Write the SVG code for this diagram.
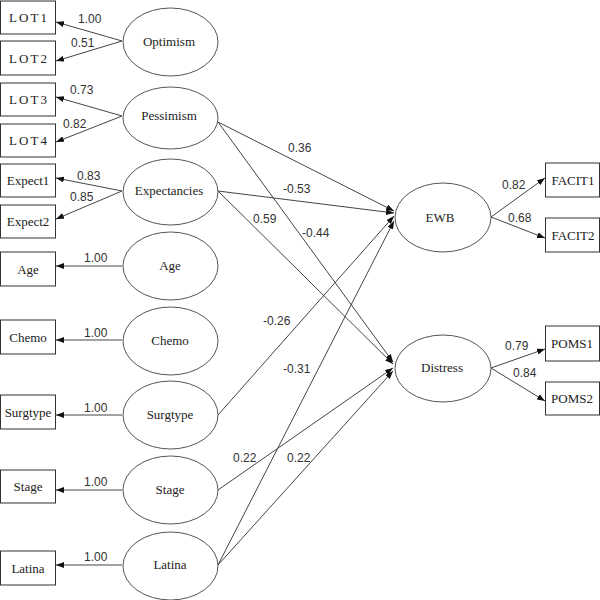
<svg xmlns="http://www.w3.org/2000/svg" width="600" height="600" viewBox="0 0 600 600">
<style>
.box{fill:#fff;stroke:#333;stroke-width:1}
.ell{fill:#fff;stroke:#555;stroke-width:1}
.nt{font-family:"Liberation Serif","Times New Roman",serif;font-size:13px;fill:#222;text-anchor:middle}
.lot{letter-spacing:2px}
.lbl{font-family:"Liberation Sans",Arial,sans-serif;font-size:12px;fill:#333}
.c{stroke:#444;stroke-width:1;fill:none;marker-end:url(#ah)}
</style>
<defs>
<marker id="ah" viewBox="0 0 8 6" refX="8" refY="3" markerWidth="8" markerHeight="6" markerUnits="userSpaceOnUse" orient="auto">
<path d="M0,0 L8,3 L0,6 z" fill="#111"/>
</marker>
</defs>
<rect width="600" height="600" fill="#fff"/>
<g id="connectors">
<line class="c" x1="122" y1="41" x2="56" y2="22"/>
<line class="c" x1="122" y1="41" x2="56" y2="61"/>
<line class="c" x1="122" y1="116" x2="56" y2="97"/>
<line class="c" x1="122" y1="116" x2="56" y2="142"/>
<line class="c" x1="122" y1="191" x2="56" y2="178"/>
<line class="c" x1="122" y1="191" x2="56" y2="219"/>
<line class="c" x1="122" y1="266" x2="56" y2="266"/>
<line class="c" x1="122" y1="340" x2="56" y2="340"/>
<line class="c" x1="122" y1="415" x2="56" y2="415"/>
<line class="c" x1="122" y1="490" x2="56" y2="490"/>
<line class="c" x1="122" y1="565" x2="56" y2="565"/>
<line class="c" x1="218" y1="122" x2="394" y2="211"/>
<line class="c" x1="218" y1="122" x2="393" y2="362"/>
<line class="c" x1="218" y1="191" x2="394" y2="213"/>
<line class="c" x1="218" y1="191" x2="393" y2="364"/>
<line class="c" x1="218" y1="415" x2="394" y2="216"/>
<line class="c" x1="218" y1="490" x2="393" y2="368"/>
<line class="c" x1="218" y1="565" x2="394" y2="221"/>
<line class="c" x1="218" y1="565" x2="393" y2="371"/>
<line class="c" x1="491" y1="217" x2="545" y2="178"/>
<line class="c" x1="491" y1="217" x2="545" y2="238"/>
<line class="c" x1="491" y1="368" x2="545" y2="349"/>
<line class="c" x1="491" y1="368" x2="545" y2="401"/>
</g>
<g id="labels" class="lbl">
<text x="78" y="23">1.00</text>
<text x="71" y="47">0.51</text>
<text x="70" y="94">0.73</text>
<text x="63" y="128">0.82</text>
<text x="77" y="180">0.83</text>
<text x="70" y="201">0.85</text>
<text x="84" y="262">1.00</text>
<text x="84" y="337">1.00</text>
<text x="84" y="412">1.00</text>
<text x="84" y="486">1.00</text>
<text x="84" y="561">1.00</text>
<text x="288" y="152">0.36</text>
<text x="283" y="193">-0.53</text>
<text x="253" y="223">0.59</text>
<text x="302" y="237">-0.44</text>
<text x="263" y="325">-0.26</text>
<text x="283" y="373">-0.31</text>
<text x="233" y="462">0.22</text>
<text x="287" y="462">0.22</text>
<text x="502" y="189">0.82</text>
<text x="508" y="222">0.68</text>
<text x="505" y="350">0.79</text>
<text x="513" y="377">0.84</text>
</g>
<g id="LOT1"><rect class="box" x="0.5" y="1" width="55" height="33"/><text class="nt lot" x="29" y="22">LOT1</text></g>
<g id="LOT2"><rect class="box" x="0.5" y="41" width="55" height="34"/><text class="nt lot" x="29" y="62.5">LOT2</text></g>
<g id="LOT3"><rect class="box" x="0.5" y="83" width="55" height="33"/><text class="nt lot" x="29" y="104">LOT3</text></g>
<g id="LOT4"><rect class="box" x="0.5" y="124" width="55" height="33"/><text class="nt lot" x="29" y="145">LOT4</text></g>
<g id="Expect1"><rect class="box" x="0.5" y="164" width="55" height="33"/><text class="nt" x="28" y="185">Expect1</text></g>
<g id="Expect2"><rect class="box" x="0.5" y="205" width="55" height="33"/><text class="nt" x="28" y="226">Expect2</text></g>
<g id="AgeBox"><rect class="box" x="0.5" y="252" width="55" height="34"/><text class="nt" x="28" y="273.5">Age</text></g>
<g id="ChemoBox"><rect class="box" x="0.5" y="320" width="55" height="34"/><text class="nt" x="28" y="341.5">Chemo</text></g>
<g id="SurgtypeBox"><rect class="box" x="0.5" y="395" width="55" height="34"/><text class="nt" x="28" y="416.5">Surgtype</text></g>
<g id="StageBox"><rect class="box" x="0.5" y="470" width="55" height="33"/><text class="nt" x="28" y="491">Stage</text></g>
<g id="LatinaBox"><rect class="box" x="0.5" y="551" width="55" height="34"/><text class="nt" x="28" y="572.5">Latina</text></g>
<g id="Optimism"><ellipse class="ell" cx="170.5" cy="42" rx="47.5" ry="34"/><text class="nt" x="169" y="46">Optimism</text></g>
<g id="Pessimism"><ellipse class="ell" cx="170.5" cy="118" rx="47.5" ry="31"/><text class="nt" x="169" y="120">Pessimism</text></g>
<g id="Expectancies"><ellipse class="ell" cx="170.5" cy="192" rx="47.5" ry="33"/><text class="nt" x="169" y="195">Expectancies</text></g>
<g id="Age"><ellipse class="ell" cx="170.5" cy="266" rx="47.5" ry="34"/><text class="nt" x="170" y="270">Age</text></g>
<g id="Chemo"><ellipse class="ell" cx="170.5" cy="341" rx="47.5" ry="34"/><text class="nt" x="170" y="345">Chemo</text></g>
<g id="Surgtype"><ellipse class="ell" cx="170.5" cy="415" rx="47.5" ry="34"/><text class="nt" x="170" y="419">Surgtype</text></g>
<g id="Stage"><ellipse class="ell" cx="170.5" cy="490" rx="47.5" ry="34"/><text class="nt" x="170" y="494">Stage</text></g>
<g id="Latina"><ellipse class="ell" cx="170.5" cy="566" rx="47.5" ry="34"/><text class="nt" x="170" y="569">Latina</text></g>
<g id="EWB"><ellipse class="ell" cx="443" cy="217.5" rx="48" ry="34.5"/><text class="nt" x="440" y="222">EWB</text></g>
<g id="Distress"><ellipse class="ell" cx="443" cy="368.5" rx="48" ry="33.5"/><text class="nt" x="442" y="372">Distress</text></g>
<g id="FACIT1"><rect class="box" x="545.5" y="163" width="54" height="34"/><text class="nt" x="573" y="184.5">FACIT1</text></g>
<g id="FACIT2"><rect class="box" x="545.5" y="218" width="54" height="34"/><text class="nt" x="573" y="239.5">FACIT2</text></g>
<g id="POMS1"><rect class="box" x="545.5" y="326" width="54" height="35"/><text class="nt" x="572" y="348">POMS1</text></g>
<g id="POMS2"><rect class="box" x="545.5" y="382" width="54" height="33"/><text class="nt" x="572" y="403">POMS2</text></g>
</svg>
